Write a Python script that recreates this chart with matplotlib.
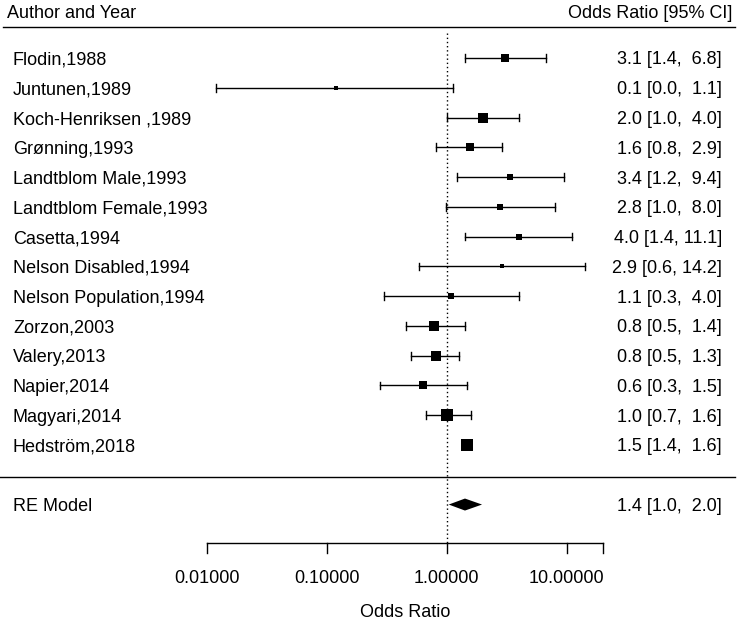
import matplotlib
matplotlib.use("Agg")
import matplotlib.pyplot as plt
import numpy as np

plt.rcParams['font.family'] = ['Liberation Sans', 'DejaVu Sans']

studies = ["Flodin,1988", "Juntunen,1989", "Koch-Henriksen ,1989", "Grønning,1993",
           "Landtblom Male,1993", "Landtblom Female,1993", "Casetta,1994",
           "Nelson Disabled,1994", "Nelson Population,1994", "Zorzon,2003",
           "Valery,2013", "Napier,2014", "Magyari,2014", "Hedström,2018"]
odds_ratio = [3.08, 0.12, 1.99, 1.57, 3.40, 2.78, 4.00, 2.91, 1.09, 0.78, 0.81, 0.64, 1.00, 1.47]
ci_lower   = [1.41, 0.012, 1.00, 0.82, 1.21, 0.98, 1.42, 0.59, 0.30, 0.46, 0.50, 0.28, 0.67, 1.40]
ci_upper   = [6.78, 1.12, 3.98, 2.90, 9.42, 7.96, 11.10, 14.20, 4.00, 1.41, 1.27, 1.48, 1.58, 1.60]
weights    = [8.0, 1.2, 11.9, 10.6, 6.7, 6.1, 6.5, 2.2, 3.5, 12.3, 14.3, 9.0, 15.4, 17.4]

re_label = "RE Model"
re_est, re_lower, re_upper = 1.42, 1.04, 1.97

tick_values = [0.01, 0.1, 1, 10, 20]
tick_labels = ["0.01000", "0.10000", "1.00000", "10.00000", ""]

W, H = 738, 621
fig = plt.figure(figsize=(W / 100, H / 100), dpi=100)
ax = fig.add_axes([0, 0, 1, 1])
ax.set_xscale('log')
x0px, ppd = 446.7, 120.0          # pixel of OR=1, pixels per decade
ax.set_xlim(10 ** ((0 - x0px) / ppd), 10 ** ((W - x0px) / ppd))
row_px, top_px = 29.77, 58.0       # row spacing, pixel of first row
k = len(studies)
ax.set_ylim(k - (H - top_px) / row_px, k + top_px / row_px)
ax.axis('off')

ytr = ax.get_yaxis_transform()
fs = 13
cap_half = 0.217  # half cap height in rows

rows = np.arange(k, 0, -1)

# header
ax.text(7 / W, 15.33, "Author and Year", transform=ytr, ha='left', va='baseline', fontsize=fs)
ax.text(732 / W, 15.33, "Odds Ratio [95% CI]", transform=ytr, ha='right', va='baseline', fontsize=fs)
ax.plot([3 / W, 735 / W], [15.04, 15.04], transform=ytr, color='black', lw=1.0)
ax.plot([0 / W, 735 / W], [-0.07, -0.07], transform=ytr, color='black', lw=1.0)

# reference line
ax.plot([1, 1], [14.85, -2.29], color='black', lw=1.0, linestyle=(0, (1, 2)))

# studies
w = np.array(weights)
side_px = 4 + (12.3 - 4) * (w - w.min()) / (w.max() - w.min())
for i, r in enumerate(rows):
    ax.plot([ci_lower[i], ci_upper[i]], [r, r], color='black', lw=1.0, zorder=2)
    for xv in (ci_lower[i], ci_upper[i]):
        ax.plot([xv, xv], [r - 0.13, r + 0.13], color='black', lw=1.0, zorder=2)
    ax.plot(odds_ratio[i], r, marker='s', color='black', markersize=side_px[i] * 0.72,
            markeredgewidth=0, zorder=3)
    ax.text(13 / W, r - cap_half, studies[i], transform=ytr, ha='left', va='baseline', fontsize=fs)
    lab = f"{odds_ratio[i]:.1f} [{ci_lower[i]:.1f}, {ci_upper[i]:>4.1f}]"
    ax.text(722 / W, r - cap_half, lab, transform=ytr, ha='right', va='baseline', fontsize=fs)

# summary
re_row = -1
dh = 6 / row_px
ax.fill([re_lower, re_est, re_upper, re_est], [re_row, re_row + dh, re_row, re_row - dh],
        color='black', lw=0, zorder=3)
ax.text(13 / W, re_row - cap_half, re_label, transform=ytr, ha='left', va='baseline', fontsize=fs)
ax.text(722 / W, re_row - cap_half, f"{re_est:.1f} [{re_lower:.1f}, {re_upper:>4.1f}]",
        transform=ytr, ha='right', va='baseline', fontsize=fs)

# x axis
axis_row = -2.29
tick_len = 10 / row_px
ax.plot([min(tick_values), max(tick_values)], [axis_row, axis_row], color='black', lw=1.0)
for tv, tl in zip(tick_values, tick_labels):
    ax.plot([tv, tv], [axis_row, axis_row - tick_len], color='black', lw=1.0)
    ax.text(tv, -3.636, tl, ha='center', va='baseline', fontsize=fs)
xmid = np.sqrt(min(tick_values) * max(tick_values))
ax.text(xmid, -4.766, "Odds Ratio", ha='center', va='baseline', fontsize=fs)

fig.savefig("out.png", dpi=100)
